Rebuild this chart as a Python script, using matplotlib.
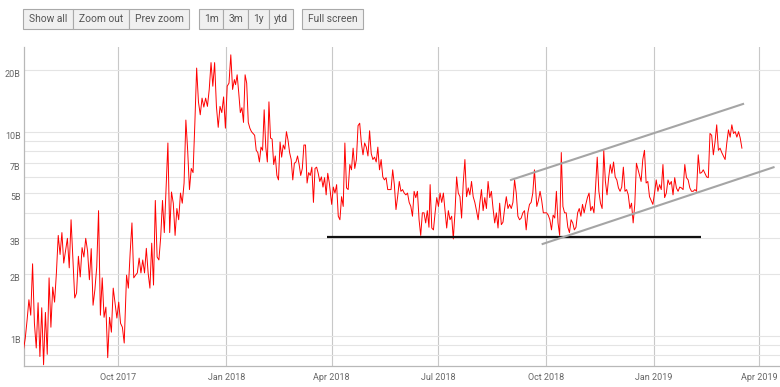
import matplotlib
matplotlib.use('Agg')
import numpy as np
import pandas as pd
import matplotlib.pyplot as plt
import matplotlib.dates as mdates
from matplotlib.patches import Rectangle
from matplotlib.transforms import ScaledTranslation

plt.rcParams['font.family'] = ['Roboto', 'DejaVu Sans']

# =============================
# Data (volume, billions), one list per stretch
# =============================

seg_dates = [
    ('2017-07-12', '2017-10-06'),
    ('2017-10-08', '2018-01-08'),
    ('2018-01-09', '2018-03-30'),
    ('2018-04-01', '2018-06-23'),
    ('2018-06-24', '2018-09-21'),
    ('2018-09-23', '2018-12-17'),
    ('2018-12-21', '2019-03-17'),
]

vol_q3_2017 = [0.85, 0.97, 1.19, 1.5, 1.26, 2.25, 1.15, 0.87, 1.45, 0.79, 1.37, 0.72, 1.3, 0.81,
               1.92, 1.10, 1.73, 1.46, 2.03, 3.1, 2.5, 3.2, 2.27, 2.6, 3.0, 2.15, 3.7, 2.35,
               1.53, 1.62, 2.45, 1.94, 2.7, 2.43, 3.0, 2.6, 1.88, 2.67, 1.41, 1.68, 2.17, 4.1,
               1.26, 1.92, 1.23, 1.38, 0.78, 1.23, 1.04, 1.71, 1.45, 1.22, 1.46, 1.15, 1.10, 0.92]
vol_q4_2017 = [1.98, 1.71, 2.55, 3.57, 1.92, 1.98, 2.03, 2.4, 2.03, 2.35, 2.03, 2.68, 2.03, 1.71,
               2.84, 1.77, 4.6, 2.43, 2.35, 3.05, 4.6, 3.2, 5.3, 8.8, 3.2, 5.06, 4.46, 3.1, 4.2,
               3.7, 5.0, 4.46, 5.6, 11.4, 8.1, 5.2, 6.6, 6.3, 11.0, 20.5, 14.0, 12.1, 14.6, 13.2,
               14.6, 13.3, 16.1, 21.8, 16.7, 21.8, 13.3, 10.5, 13.3, 12.4, 14.8, 10.4, 16.7,
               17.3, 23.8, 16.1, 18.0]
vol_q1_2018 = [17, 19.0, 15.5, 12.4, 13.1, 11.1, 19.0, 17.3, 11.1, 10.4, 10.0, 9.8, 9.6, 8.1, 7.9,
               7.1, 8.4, 8.1, 12.8, 8.4, 7.1, 14.0, 9.3, 9.2, 6.9, 7.6, 6.1, 5.8, 8.9, 7.5, 8.6,
               8.2, 10.0, 9.1, 7.9, 7.3, 5.8, 7.0, 7.1, 7.6, 6.9, 6.1, 6.6, 8.6, 8.6, 5.6, 6.3,
               6.1, 6.7, 4.5, 6.6, 6.7, 6.25, 5.7, 6.0, 5.35, 5.95, 4.9, 6.25, 5.6]
vol_q2_2018 = [4.4, 5.35, 5.0, 5.5, 3.85, 3.7, 4.8, 4.3, 8.8, 5.3, 5.2, 6.9, 6.5, 8.3, 6.6, 7.3,
               10.7, 11.0, 8.8, 7.7, 8.8, 8.4, 7.6, 10.1, 7.8, 7.3, 7.5, 7.1, 8.4, 6.5, 7.3, 6.0,
               5.8, 5.95, 5.2, 5.2, 5.2, 6.5, 5.5, 4.15, 4.8, 5.7, 5.1, 5.2, 5.0, 4.9, 5.0, 4.5,
               4.3, 3.85, 5.1, 4.75, 5.1, 3.7, 3.1, 4.0, 4.0, 3.57, 4.1, 3.4]
vol_q3_2018 = [5.5, 3.37, 3.3, 4.0, 4.75, 4.3, 5.0, 4.5, 5.0, 4.1, 3.37, 4.1, 3.7, 3.85, 2.98, 4.0,
               6.0, 5.0, 4.8, 3.77, 5.6, 7.3, 4.8, 5.3, 4.9, 5.7, 4.8, 4.5, 4.1, 3.7, 4.46, 5.2,
               4.1, 4.75, 4.2, 5.7, 4.75, 5.1, 4.2, 3.57, 4.0, 3.37, 4.46, 3.5, 3.6, 4.2, 4.8,
               4.2, 4.4, 4.2, 4.5, 5.8, 5.0, 3.85, 3.7, 3.77, 4.0, 4.1, 3.3, 4.0, 4.4, 4.5, 5.0, 6.5]
vol_q4_2018 = [4.3, 4.6, 5.1, 4.6, 4.0, 4.0, 4.0, 3.9, 3.7, 3.3, 3.9, 3.77, 5.1, 3.57, 3.1, 7.9,
               4.3, 4.0, 4.0, 3.4, 3.2, 3.7, 3.57, 3.3, 3.4, 4.0, 4.2, 3.85, 4.4, 4.0, 4.4, 4.75,
               5.0, 4.1, 4.3, 4.0, 5.35, 7.5, 5.1, 4.46, 4.2, 8.1, 5.7, 4.9, 5.95, 6.9, 6.25, 7.1,
               6.0, 5.8, 5.3, 5.1, 5.35, 6.7, 5.1, 5.2, 4.9, 4.2, 4.46, 3.57, 4.4, 7.0]
vol_q1_2019 = [5.7, 7.3, 8.1, 5.6, 5.7, 4.8, 4.6, 4.4, 5.0, 5.8, 5.1, 5.5, 5.2, 6.9, 4.75, 5.0,
               5.8, 5.5, 5.7, 4.9, 5.95, 5.3, 5.1, 5.35, 5.3, 5.2, 6.9, 5.95, 5.8, 5.3, 5.1, 5.1,
               5.2, 5.1, 7.7, 6.25, 6.3, 6.5, 6.25, 6.0, 5.95, 9.8, 9.6, 7.7, 8.9, 10.8, 8.1, 8.3,
               7.9, 7.6, 7.3, 8.8, 10.2, 9.4, 10.8, 9.8, 10.0, 9.4, 10.0, 9.3, 8.3]

segments = [vol_q3_2017, vol_q4_2017, vol_q1_2018, vol_q2_2018,
            vol_q3_2018, vol_q4_2018, vol_q1_2019]

# hand drawn lines
support_dates = ['2018-03-28', '2019-02-10']
support_vals = [3.05, 3.05]
upper_dates = ['2018-09-01', '2019-03-18']
upper_vals = [5.8, 13.67]
lower_dates = ['2018-09-28', '2019-04-13']
lower_vals = [2.815, 6.69]

major_y = [1, 2, 3, 5, 7, 10, 20]
minor_y = [0.8, 0.9, 4, 6, 8, 9]
x_ticks = ['2017-10-01', '2018-01-01', '2018-04-01', '2018-07-01',
           '2018-10-01', '2019-01-01', '2019-04-01']

# =============================
# Figure
# =============================

W, H = 780, 387
fig = plt.figure(figsize=(W / 100, H / 100), dpi=100)
ax = fig.add_axes([24 / W, (H - 366) / H, 1 - 24 / W, (366 - 47) / H])

dates, vals = [], []
for (d0, d1), seg in zip(seg_dates, segments):
    dates.extend(pd.date_range(d0, d1, periods=len(seg)))
    vals.extend(seg)

ax.plot(dates, vals, color='#ff0000', lw=0.7, zorder=3)
ax.plot(pd.to_datetime(support_dates), support_vals, color='#111111', lw=1.6, zorder=4,
        solid_capstyle='butt')
ax.plot(pd.to_datetime(upper_dates), upper_vals, color='#a5a5a5', lw=1.5, zorder=4)
ax.plot(pd.to_datetime(lower_dates), lower_vals, color='#a5a5a5', lw=1.5, zorder=4)

ax.set_yscale('log')
ax.set_ylim(0.71, 26.0)
ax.set_xlim(pd.Timestamp('2017-07-12 12:00'), pd.Timestamp('2019-04-18 12:00'))

ax.set_yticks(major_y)
ax.set_yticklabels([f'{v:g}B' for v in major_y])
ax.set_yticks(minor_y, minor=True)
ax.yaxis.set_minor_formatter(plt.NullFormatter())
ax.set_xticks(pd.to_datetime(x_ticks))
ax.xaxis.set_major_formatter(mdates.DateFormatter('%b %Y'))

ax.grid(axis='y', which='both', color='#e4e4e4', lw=0.8, zorder=0)
ax.grid(axis='x', color='#c8c8c8', lw=0.8, zorder=0)
ax.set_axisbelow(True)

ax.tick_params(which='both', length=0, labelsize=6.5, colors='#666666')
ax.tick_params(axis='y', pad=2.5)
ax.tick_params(axis='x', pad=5)
for lab in ax.get_yticklabels():
    lab.set_transform(lab.get_transform() + ScaledTranslation(0, -0.035, fig.dpi_scale_trans))

for side in ['top', 'right']:
    ax.spines[side].set_visible(False)
for side in ['left', 'bottom']:
    ax.spines[side].set_color('#b8b8b8')
    ax.spines[side].set_linewidth(0.9)

# =============================
# Buttons at the top
# =============================

buttons = [('Show all', 23, 73), ('Zoom out', 73, 129), ('Prev zoom', 129, 189),
           ('1m', 199, 223), ('3m', 223, 248), ('1y', 248, 269), ('ytd', 269, 293),
           ('Full screen', 302, 363)]
for label, x0, x1 in buttons:
    fig.add_artist(Rectangle((x0 / W, 1 - 29 / H), (x1 - x0) / W, 20 / H,
                             transform=fig.transFigure, facecolor='#f0f0f0',
                             edgecolor='#a9a9a9', lw=0.8))
    fig.text((x0 + x1) / 2 / W, 1 - 19 / H, label, ha='center', va='center',
             fontsize=7.4, color='#555555')

fig.savefig('out.png', dpi=100)
